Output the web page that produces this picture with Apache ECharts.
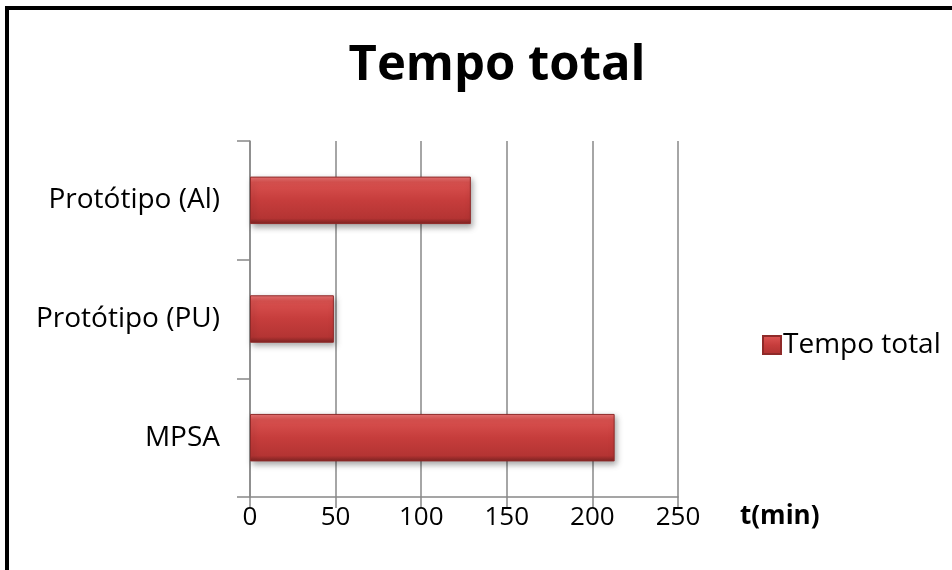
<!DOCTYPE html>
<html>
<head>
<meta charset="utf-8">
<script src="https://cdn.jsdelivr.net/npm/echarts@6/dist/echarts.min.js"></script>
<style>
  html, body { margin: 0; padding: 0; background: #fff; }
  #chart { width: 952px; height: 570px; }
</style>
</head>
<body>
<div id="chart"></div>
<script>
// Categories listed bottom-to-top as they appear on the vertical axis
const categories = ['MPSA', 'Protótipo (PU)', 'Protótipo (Al)'];
// Total time per setup, minutes
const tempoTotal = [213, 49, 129];
const seriesName = 'Tempo total';
const chartTitle = 'Tempo total';
const axisName = 't(min)';
const xTicks = { min: 0, max: 250, interval: 50 };

const FONT = '"Open Sans", "Noto Sans", sans-serif';

const barFill = new echarts.graphic.LinearGradient(0, 0, 0, 1, [
  { offset: 0.0, color: '#e87474' },
  { offset: 0.12, color: '#d9514f' },
  { offset: 0.5, color: '#c63d3c' },
  { offset: 0.88, color: '#b43433' },
  { offset: 1.0, color: '#7c2322' }
]);

const chart = echarts.init(document.getElementById('chart'), null, { renderer: 'canvas' });

chart.setOption({
  backgroundColor: '#fff',
  animation: false,
  title: {
    text: chartTitle,
    left: 492,
    textAlign: 'center',
    top: 37,
    textStyle: { fontFamily: FONT, fontWeight: 'bold', fontSize: 49, color: '#000' }
  },
  legend: {
    data: [seriesName],
    left: 757,
    top: 326,
    icon: 'rect',
    itemWidth: 18,
    itemHeight: 18,
    itemGap: 6,
    textStyle: { fontFamily: FONT, fontSize: 28, color: '#000', padding: [0, 0, 0, -3] }
  },
  grid: { left: 250, right: 274, top: 141, bottom: 73, containLabel: false },
  xAxis: {
    type: 'value',
    min: xTicks.min,
    max: xTicks.max,
    interval: xTicks.interval,
    name: axisName,
    nameLocation: 'end',
    nameGap: 62,
    nameTextStyle: { fontFamily: FONT, fontWeight: 'bold', fontSize: 26, color: '#000', verticalAlign: 'top', padding: [7, 0, 0, 0] },
    axisLine: { show: true, lineStyle: { color: '#888', width: 1.5 } },
    axisTick: { show: true, length: 11, lineStyle: { color: '#888', width: 1.5 } },
    axisLabel: { fontFamily: FONT, fontSize: 26, color: '#000', margin: 8 },
    splitLine: { show: true, lineStyle: { color: '#888', width: 1.5 } }
  },
  yAxis: {
    type: 'category',
    data: categories,
    axisLine: { show: true, lineStyle: { color: '#888', width: 1.5 } },
    axisTick: { show: true, length: 13, lineStyle: { color: '#888', width: 1.5 } },
    axisLabel: { fontFamily: FONT, fontSize: 28, color: '#000', margin: 30 }
  },
  series: [{
    name: seriesName,
    type: 'bar',
    data: tempoTotal,
    barCategoryGap: '60%',
    itemStyle: {
      color: barFill,
      borderColor: '#8f2a29',
      borderWidth: 1,
      shadowColor: 'rgba(0,0,0,0.35)',
      shadowBlur: 6,
      shadowOffsetX: 2,
      shadowOffsetY: 3
    }
  }],
  graphic: [{
    type: 'rect',
    shape: { x: 7, y: 8, width: 1000, height: 700 },
    style: { fill: null, stroke: '#000', lineWidth: 4 },
    silent: true,
    z: 100
  }]
});
</script>
</body>
</html>
